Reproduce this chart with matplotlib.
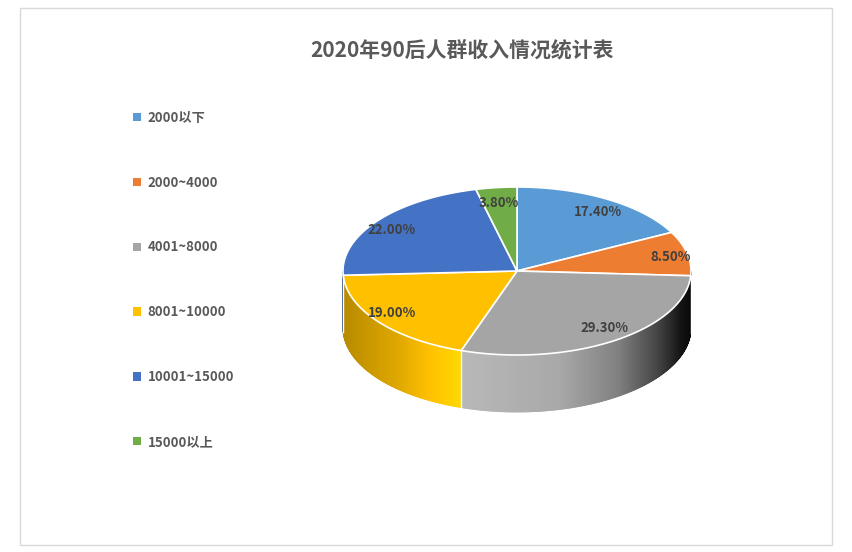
import numpy as np
import matplotlib
matplotlib.use("Agg")
import matplotlib.pyplot as plt
from matplotlib.patches import Polygon, Patch, Rectangle
from matplotlib.collections import PolyCollection

plt.rcParams['font.family'] = ['Noto Sans CJK SC', 'DejaVu Sans']

# data
title = "2020年90后人群收入情况统计表"
categories = ["2000以下", "2000~4000", "4001~8000", "8001~10000", "10001~15000", "15000以上"]
shares = [17.4, 8.5, 29.3, 19.0, 22.0, 3.8]
colors = ["#5b9bd5", "#ed7d31", "#a5a5a5", "#ffc000", "#4472c4", "#70ad47"]

# pie geometry (pixel units)
cx, cy = 517, 271
rx, ry = 174, 84
depth = 57

fig = plt.figure(figsize=(8.52, 5.52), dpi=100)
ax = fig.add_axes([0, 0, 1, 1])
ax.set_xlim(0, 852)
ax.set_ylim(552, 0)
ax.axis("off")

ax.add_patch(Rectangle((20, 8), 812, 537, fill=False, edgecolor="#d9d9d9", lw=1))


def pt(theta_deg, dz=0):
    t = np.radians(theta_deg)
    return cx + rx * np.cos(t), cy - ry * np.sin(t) + dz


# slice angles: start at 12 o'clock, clockwise
fracs = np.array(shares) / sum(shares)
ends = 90 - 360 * np.cumsum(fracs)
starts = np.concatenate([[90], ends[:-1]])

# side shading vs horizontal position
su = [0, 0.16, 0.33, 0.62, 0.79, 0.91, 0.97, 1.0]
sb = [0.72, 0.88, 1.12, 1.02, 0.78, 0.39, 0.12, 0.05]

polys, pcols = [], []
for s, e, c in zip(starts, ends, colors):
    lo, hi = max(e, -180), min(s, 0)
    if lo >= hi:
        continue
    angs = np.linspace(hi, lo, max(int((hi - lo) * 3), 2))
    rgb = np.array(matplotlib.colors.to_rgb(c))
    for a0, a1 in zip(angs[:-1], angs[1:]):
        x0, y0 = pt(a0)
        x1, y1 = pt(a1)
        polys.append([(x0, y0), (x1, y1), (x1, y1 + depth), (x0, y0 + depth)])
        u = ((x0 + x1) / 2 - (cx - rx)) / (2 * rx)
        pcols.append(np.clip(rgb * np.interp(u, su, sb), 0, 1))
ax.add_collection(PolyCollection(polys, facecolors=pcols, edgecolors=pcols, lw=0.6))

# seams on the side
for s in starts:
    if -180 < s < 0:
        x0, y0 = pt(s)
        ax.plot([x0, x0], [y0, y0 + depth], color="white", lw=1)

# top face
for s, e, c in zip(starts, ends, colors):
    angs = np.linspace(s, e, 200)
    pts = [(cx, cy)] + [pt(a) for a in angs]
    ax.add_patch(Polygon(pts, closed=True, facecolor=c, edgecolor="white", lw=1.2))

# data labels
for s, e, v in zip(starts, ends, shares):
    m = np.radians((s + e) / 2)
    ax.text(cx + 0.9 * rx * np.cos(m), cy - 0.82 * ry * np.sin(m), f"{v:.2f}%",
            ha="center", va="center", fontsize=9.5, fontweight="bold", color="#404040")

ax.text(462, 50, title, ha="center", va="center", fontsize=15, fontweight="bold", color="#595959")

handles = [Patch(facecolor=c, edgecolor="none") for c in colors]
leg = ax.legend(handles, categories, loc="upper left", bbox_to_anchor=(121 / 852, 1 - 99 / 552),
                frameon=False, handlelength=0.6, handleheight=0.6, handletextpad=0.5,
                labelspacing=3.85, prop={"size": 9.5, "weight": "bold"})
for t in leg.get_texts():
    t.set_color("#595959")

fig.savefig("out.png", dpi=100, facecolor="white")
